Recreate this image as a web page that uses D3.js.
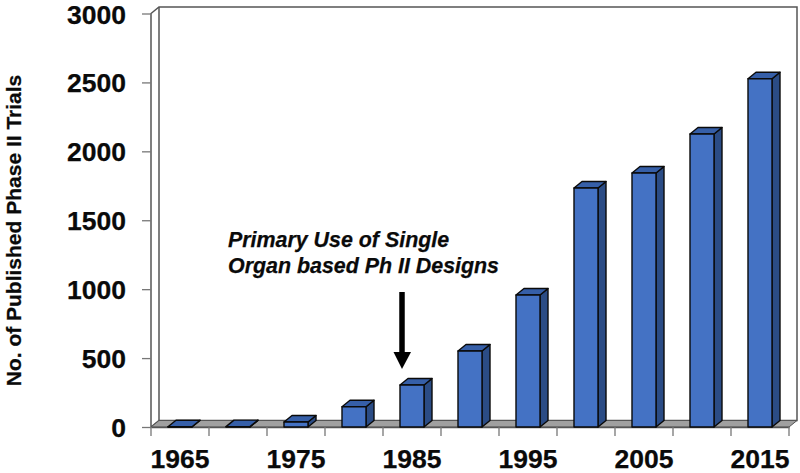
<!DOCTYPE html>
<html>
<head>
<meta charset="utf-8">
<script src="https://cdnjs.cloudflare.com/ajax/libs/d3/7.8.5/d3.min.js"></script>
<style>
  body { margin: 0; background: #fff; }
  svg { display: block; }
  text { font-family: "Liberation Sans", Arial, sans-serif; font-weight: bold; fill: #0a0a0a; stroke: #0a0a0a; stroke-width: 0.25px; }
</style>
</head>
<body>
<div class="chart"></div>
<script>
var years = ["1965", "1970", "1975", "1980", "1985", "1990", "1995", "2000", "2005", "2010", "2015"];
var trials = [2, 3, 36, 147, 305, 551, 958, 1734, 1843, 2126, 2527];
var yearLabels = ["1965", "1975", "1985", "1995", "2005", "2015"];
var trialTicks = [0, 500, 1000, 1500, 2000, 2500, 3000];
var yTitle = "No. of Published Phase II Trials";
var noteLines = ["Primary Use of Single", "Organ based Ph II Designs"];

var svgWidth = 800;
var svgHeight = 473;
var margin = { top: 13.5, right: 11, bottom: 46, left: 151 };
var width = svgWidth - margin.left - margin.right;
var height = svgHeight - margin.top - margin.bottom;

// offset of the back wall
var depthX = 8;
var depthY = 6.5;

var svg = d3.select(".chart")
  .append("svg")
  .attr("width", svgWidth)
  .attr("height", svgHeight);

var chartGroup = svg.append("g")
  .attr("transform", `translate(${margin.left}, ${margin.top})`);

var xScale = d3.scaleBand()
  .domain(years)
  .range([0, width])
  .paddingInner(0.586)
  .paddingOuter(0.293);

var yScale = d3.scaleLinear()
  .domain([0, 3000])
  .range([height, 0]);

// back wall and floor
var wallColor = "#555";
chartGroup.append("path")
  .attr("d", `M0,${height} V0 L${depthX},${-depthY} H${width + depthX} V${height - depthY} H${depthX} Z`)
  .attr("fill", "#fff")
  .attr("stroke", wallColor)
  .attr("stroke-width", 1.5);

chartGroup.append("path")
  .attr("d", `M${depthX},${-depthY} V${height - depthY}`)
  .attr("stroke", wallColor)
  .attr("stroke-width", 1.5);

chartGroup.append("path")
  .attr("d", `M0,${height} L${depthX},${height - depthY} H${width + depthX} L${width},${height} Z`)
  .attr("fill", "#a0a0a0")
  .attr("stroke", wallColor)
  .attr("stroke-width", 1);

// axes
var leftAxis = d3.axisLeft(yScale)
  .tickValues(trialTicks)
  .tickSize(9)
  .tickPadding(16)
  .tickFormat(d3.format("d"));

var yAxisGroup = chartGroup.append("g").call(leftAxis);
yAxisGroup.select(".domain").remove();
yAxisGroup.selectAll("line").attr("stroke", "#777").attr("stroke-width", 1.3);
yAxisGroup.selectAll("text")
  .style("font-size", "26.5px")
  .attr("dy", "0.36em");

var bottomAxis = d3.axisBottom(xScale)
  .tickValues(yearLabels)
  .tickSize(0)
  .tickPadding(22);

var xAxisGroup = chartGroup.append("g")
  .attr("transform", `translate(0, ${height})`)
  .call(bottomAxis);
xAxisGroup.select(".domain").attr("stroke", "#555").attr("stroke-width", 1.3);
xAxisGroup.selectAll("text")
  .style("font-size", "26.5px");

// tick marks sit between the bands
var bandEdges = years.map(d => xScale(d) + xScale.bandwidth() / 2 - xScale.step() / 2);
bandEdges.push(width);
chartGroup.selectAll(".band-tick")
  .data(bandEdges)
  .enter()
  .append("line")
  .attr("class", "band-tick")
  .attr("x1", d => d)
  .attr("x2", d => d)
  .attr("y1", height)
  .attr("y2", height + 9)
  .attr("stroke", "#777")
  .attr("stroke-width", 1.3);

// bars: side, top, then front face
var barGroup = chartGroup.selectAll(".bar")
  .data(years.map((d, i) => ({ year: d, value: trials[i] })))
  .enter()
  .append("g")
  .attr("class", "bar")
  .attr("stroke", "#0a0a0a")
  .attr("stroke-width", 1.4)
  .attr("stroke-linejoin", "round");

barGroup.append("path")
  .attr("fill", "#2b4c85")
  .attr("d", function (d) {
    var x1 = xScale(d.year) + xScale.bandwidth();
    var y = yScale(d.value);
    return `M${x1},${y} L${x1 + depthX},${y - depthY} V${height - depthY} L${x1},${height} Z`;
  });

barGroup.append("path")
  .attr("fill", "#365fa8")
  .attr("d", function (d) {
    var x0 = xScale(d.year);
    var x1 = x0 + xScale.bandwidth();
    var y = yScale(d.value);
    return `M${x0},${y} L${x0 + depthX},${y - depthY} H${x1 + depthX} L${x1},${y} Z`;
  });

barGroup.append("rect")
  .attr("fill", "#4472c4")
  .attr("x", d => xScale(d.year))
  .attr("y", d => yScale(d.value))
  .attr("width", xScale.bandwidth())
  .attr("height", d => height - yScale(d.value));

// axis title
svg.append("text")
  .attr("transform", "translate(20.5, 230.5) rotate(-90)")
  .attr("text-anchor", "middle")
  .style("font-size", "21px")
  .text(yTitle);

// annotation
svg.selectAll(".note")
  .data(noteLines)
  .enter()
  .append("text")
  .attr("class", "note")
  .attr("x", 228)
  .attr("y", (d, i) => 246.5 + i * 26.5)
  .style("font-size", "21.4px")
  .style("font-style", "italic")
  .text(d => d);

svg.append("line")
  .attr("x1", 402)
  .attr("x2", 402)
  .attr("y1", 292)
  .attr("y2", 353)
  .attr("stroke", "#000")
  .attr("stroke-width", 5.5);

svg.append("path")
  .attr("d", d3.line()([[393.5, 352], [411, 352], [402, 369]]) + "Z")
  .attr("fill", "#000");
</script>
</body>
</html>
